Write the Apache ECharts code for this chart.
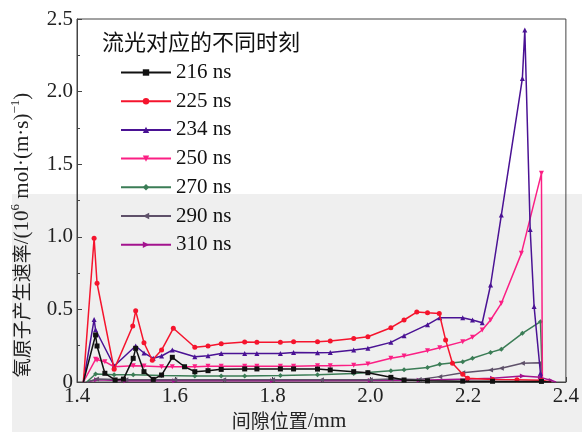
<!DOCTYPE html>
<html><head><meta charset="utf-8">
<script src="https://cdn.jsdelivr.net/npm/echarts@6/dist/echarts.min.js"></script>
<style>html,body{margin:0;padding:0;background:#fff}#c{width:582px;height:432px}</style>
</head><body><div id="c"></div>
<script>
const seriesNames = ['216 ns','225 ns','234 ns','250 ns','270 ns','290 ns','310 ns'];
const s216 = [[1.413,0],[1.438,0.324],[1.441,0.248],[1.457,0.06],[1.478,0.014],[1.495,0.02],[1.515,0.163],[1.52,0.232],[1.537,0.071],[1.556,0.018],[1.573,0.048],[1.595,0.17],[1.62,0.105],[1.641,0.071],[1.668,0.078],[1.695,0.087],[1.743,0.09],[1.768,0.09],[1.816,0.09],[1.843,0.09],[1.892,0.089],[1.918,0.083],[1.966,0.071],[1.995,0.064],[2.042,0.032],[2.069,0.014],[2.117,0.008],[2.189,0.006],[2.25,0.005],[2.35,0.004],[2.37,0]];
const s225 = [[1.413,0],[1.435,0.99],[1.441,0.68],[1.476,0.087],[1.514,0.386],[1.52,0.49],[1.537,0.27],[1.554,0.15],[1.573,0.22],[1.597,0.37],[1.641,0.239],[1.668,0.248],[1.695,0.264],[1.743,0.276],[1.768,0.273],[1.816,0.273],[1.843,0.278],[1.892,0.278],[1.918,0.282],[1.966,0.30],[1.995,0.312],[2.042,0.374],[2.069,0.427],[2.095,0.482],[2.117,0.477],[2.141,0.472],[2.154,0.29],[2.168,0.129],[2.189,0.053],[2.199,0.025],[2.25,0.018],[2.30,0.015],[2.35,0.012],[2.37,0]];
const s234 = [[1.413,0],[1.435,0.43],[1.438,0.36],[1.476,0.11],[1.52,0.248],[1.537,0.20],[1.556,0.163],[1.573,0.179],[1.595,0.22],[1.641,0.174],[1.668,0.181],[1.695,0.197],[1.743,0.197],[1.768,0.197],[1.816,0.197],[1.843,0.204],[1.892,0.202],[1.918,0.204],[1.966,0.22],[1.995,0.232],[2.042,0.273],[2.069,0.319],[2.117,0.395],[2.142,0.443],[2.189,0.443],[2.209,0.427],[2.229,0.408],[2.246,0.668],[2.268,1.15],[2.311,2.09],[2.316,2.424],[2.327,1.05],[2.335,0.52],[2.348,0.06],[2.352,0]];
const s250 = [[1.413,0],[1.438,0.156],[1.441,0.15],[1.457,0.14],[1.476,0.105],[1.515,0.112],[1.537,0.11],[1.573,0.105],[1.595,0.105],[1.641,0.105],[1.668,0.108],[1.695,0.108],[1.743,0.108],[1.768,0.108],[1.816,0.108],[1.843,0.108],[1.892,0.112],[1.918,0.112],[1.966,0.115],[1.995,0.124],[2.042,0.163],[2.069,0.179],[2.117,0.215],[2.142,0.236],[2.189,0.278],[2.209,0.308],[2.229,0.358],[2.246,0.427],[2.268,0.542],[2.309,0.886],[2.35,1.437],[2.352,0]];
const s270 = [[1.42,0],[1.438,0.055],[1.476,0.05],[1.515,0.05],[1.573,0.045],[1.641,0.042],[1.695,0.042],[1.743,0.042],[1.816,0.045],[1.892,0.05],[1.966,0.058],[1.995,0.066],[2.042,0.078],[2.069,0.085],[2.117,0.1],[2.142,0.122],[2.189,0.14],[2.209,0.163],[2.246,0.204],[2.268,0.225],[2.311,0.335],[2.348,0.415],[2.352,0]];
const s290 = [[1.42,0],[1.44,0.02],[1.5,0.015],[1.6,0.015],[1.7,0.015],[1.8,0.015],[1.9,0.016],[2.0,0.016],[2.042,0.02],[2.1,0.018],[2.142,0.037],[2.189,0.064],[2.246,0.083],[2.268,0.094],[2.311,0.129],[2.348,0.133],[2.352,0]];
const s310 = [[1.42,0],[1.44,0.015],[1.5,0.008],[1.6,0.008],[1.8,0.008],[2.0,0.01],[2.1,0.012],[2.2,0.02],[2.25,0.025],[2.311,0.041],[2.348,0.032],[2.37,0.01],[2.38,0]];
const xTicks = [1.4,1.6,1.8,2.0,2.2,2.4];
const yTicks = [0,0.5,1.0,1.5,2.0,2.5];

const allData = [s216,s225,s234,s250,s270,s290,s310];
const colors = ['#111111','#f5142d','#4a1294','#fb1f84','#3b7d56','#5e5069','#a3138e'];
const symbols = ['rect','circle','triangle','path://M0,0 L10,0 L5,9 Z','diamond','path://M9,0 L9,10 L0,5 Z','path://M0,0 L0,10 L9,5 Z'];
const serif = '"Liberation Serif","Times New Roman",serif';
const cjk = '"Noto Sans CJK SC","Liberation Serif",serif';

const chart = echarts.init(document.getElementById('c'), null, {renderer:'canvas'});
chart.setOption({
  animation:false,
  backgroundColor:'#ffffff',
  graphic:[
    {type:'rect', z:-10, silent:true, shape:{x:12,y:194,width:570,height:238}, style:{fill:'#efefef'}},
    {type:'text', z:10, left:102, top:31, style:{text:'流光对应的不同时刻', font:'22px '+cjk, fill:'#111'}},
    {type:'text', z:10, x:289, y:421, style:{align:'center', verticalAlign:'middle',
      text:'{a|间隙位置}{b|/mm}',
      rich:{a:{fontFamily:cjk, fontSize:19, fill:'#222'}, b:{fontFamily:serif, fontSize:21, fill:'#222'}}
      }},
    {type:'text', z:10, x:22, y:235, rotation:Math.PI/2,
      style:{align:'center', verticalAlign:'middle',
        text:'{a|氧原子产生速率}{b|/(10}{s|6}{b| mol·(m·s)}{s|−1}{b|)}',
        rich:{
          a:{fontFamily:cjk, fontSize:19, fill:'#222'},
          b:{fontFamily:serif, fontSize:21, fill:'#222'},
          s:{fontFamily:serif, fontSize:13, fill:'#222', padding:[0,0,12,0]}
        }}}
  ],
  grid:{left:77, right:15, top:19, bottom:50, show:true, borderColor:'#444', borderWidth:1, backgroundColor:'transparent'},
  legend:{
    orient:'vertical', left:120, top:62, padding:0, itemWidth:50, itemHeight:8, itemGap:7.7,
    textStyle:{fontFamily:serif, fontSize:21, color:'#111', lineHeight:21},
    data:seriesNames
  },
  xAxis:{
    type:'value', min:1.4, max:2.4, interval:0.2,
    axisLine:{lineStyle:{color:'#444', width:1}},
    axisTick:{inside:true, length:5, lineStyle:{color:'#444'}},
    minorTick:{show:true, splitNumber:2, length:3, lineStyle:{color:'#444'}},
    splitLine:{show:false},
    axisLabel:{fontFamily:serif, fontSize:21, color:'#222', margin:4,
      formatter:function(v){ return xTicks.indexOf(Math.round(v*10)/10)>=0 ? v.toFixed(1) : ''; }}
  },
  yAxis:{
    type:'value', min:0, max:2.5, interval:0.5,
    axisLine:{show:true, lineStyle:{color:'#444', width:1}},
    axisTick:{show:true, inside:true, length:5, lineStyle:{color:'#444'}},
    minorTick:{show:true, splitNumber:2, length:3, lineStyle:{color:'#444'}},
    splitLine:{show:false},
    axisLabel:{fontFamily:serif, fontSize:21, color:'#222', margin:4,
      formatter:function(v){ return v===0 ? '0' : v.toFixed(1); }}
  },
  series: allData.map(function(d,i){
    return {
      name:seriesNames[i], type:'line',
      data:d.map(function(p){ return p[1]===0 ? {value:p, symbol:'none'} : {value:p}; }),
      showSymbol:true,
      symbol:symbols[i], symbolSize:5,
      lineStyle:{color:colors[i], width:1.5},
      itemStyle:{color:colors[i]},
      z: 2 + (6-i)*0.01
    };
  })
});
</script></body></html>
